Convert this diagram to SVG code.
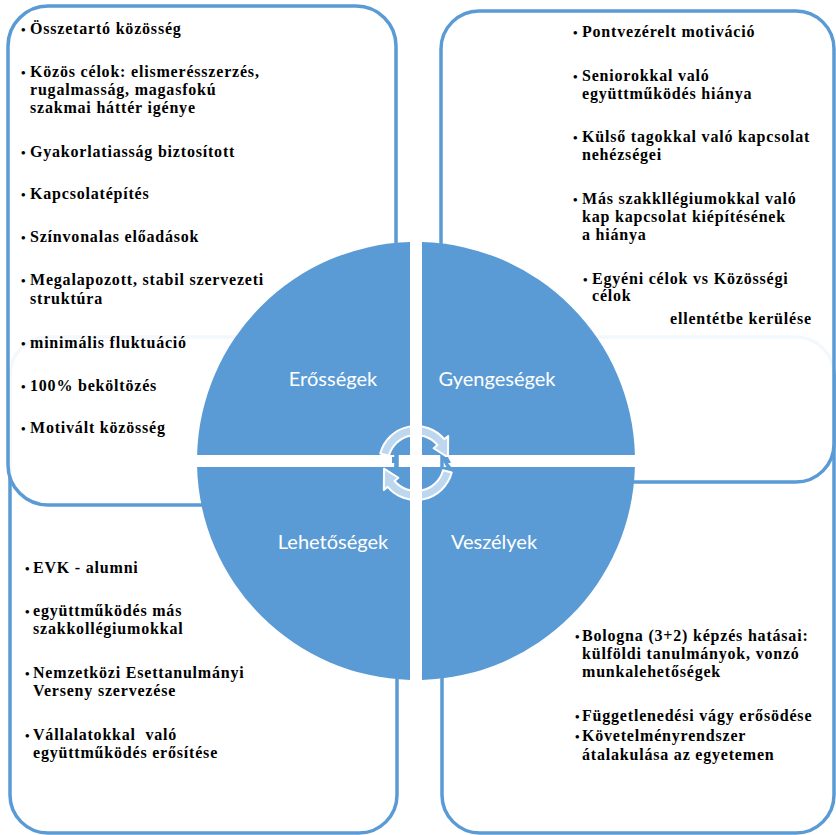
<svg xmlns="http://www.w3.org/2000/svg" xmlns:xlink="http://www.w3.org/1999/xlink" width="836" height="835" viewBox="0 0 836 835">
<style>
.box{fill:#fff;stroke:#5B9BD5;stroke-width:3.5}
.top{fill-opacity:0.93}
.t{font-family:"Liberation Serif","Times New Roman",serif;font-weight:bold;font-size:16px;letter-spacing:0.8px;fill:#000}
.b{font-size:13px;letter-spacing:0}
.q{fill:#5B9BD5}
.lbl{font-family:Lato,"Open Sans",sans-serif;font-size:20px;fill:#fff;text-anchor:middle}
.arrow{fill:#fff;fill-opacity:0.6;stroke:#fff;stroke-width:2;stroke-linejoin:round}
</style>
<defs>
<path id="cyc" d="M380.26,453.42 A37,37 0 0 1 444.34,439.22 L448.17,436 L448,457.36 L433.62,448.22 L437.45,445 A28,28 0 0 0 388.95,455.75 Z"/>
</defs>

<g id="box-opportunities">
<rect class="box" x="10" y="337" width="387" height="496" rx="38"/>
<text class="t"><tspan class="b" x="25" y="573">•</tspan><tspan x="33" y="573">EVK - alumni</tspan></text>
<text class="t"><tspan class="b" x="25" y="616">•</tspan><tspan x="33" y="616">együttműködés más</tspan><tspan x="33" y="634">szakkollégiumokkal</tspan></text>
<text class="t"><tspan class="b" x="25" y="678">•</tspan><tspan x="33" y="678">Nemzetközi Esettanulmányi</tspan><tspan x="33" y="696">Verseny szervezése</tspan></text>
<text class="t" xml:space="preserve"><tspan class="b" x="25" y="740">•</tspan><tspan x="33" y="740">Vállalatokkal  való</tspan><tspan x="33" y="758">együttműködés erősítése</tspan></text>
</g>

<g id="box-threats">
<rect class="box" x="442" y="337" width="392" height="496" rx="38"/>
<text class="t"><tspan class="b" x="575" y="641">•</tspan><tspan x="582" y="641">Bologna (3+2) képzés hatásai:</tspan><tspan x="582" y="659">külföldi tanulmányok, vonzó</tspan><tspan x="582" y="677">munkalehetőségek</tspan></text>
<text class="t"><tspan class="b" x="575" y="721">•</tspan><tspan x="582" y="721">Függetlenedési vágy erősödése</tspan></text>
<text class="t"><tspan class="b" x="575" y="741">•</tspan><tspan x="582" y="741">Követelményrendszer</tspan><tspan x="582" y="760">átalakulása az egyetemen</tspan></text>
</g>

<g id="box-strengths">
<rect class="box top" x="8" y="6" width="388" height="499" rx="40"/>
<text class="t"><tspan class="b" x="21" y="34">•</tspan><tspan x="30" y="34">Összetartó közösség</tspan></text>
<text class="t"><tspan class="b" x="21" y="77">•</tspan><tspan x="30" y="77">Közös célok: elismerésszerzés,</tspan><tspan x="30" y="95">rugalmasság, magasfokú</tspan><tspan x="30" y="113">szakmai háttér igénye</tspan></text>
<text class="t"><tspan class="b" x="21" y="157">•</tspan><tspan x="30" y="157">Gyakorlatiasság biztosított</tspan></text>
<text class="t"><tspan class="b" x="21" y="199">•</tspan><tspan x="30" y="199">Kapcsolatépítés</tspan></text>
<text class="t"><tspan class="b" x="21" y="242">•</tspan><tspan x="30" y="242">Színvonalas előadások</tspan></text>
<text class="t"><tspan class="b" x="21" y="285">•</tspan><tspan x="30" y="285">Megalapozott, stabil szervezeti</tspan><tspan x="30" y="304">struktúra</tspan></text>
<text class="t"><tspan class="b" x="21" y="348">•</tspan><tspan x="30" y="348">minimális fluktuáció</tspan></text>
<text class="t"><tspan class="b" x="21" y="391">•</tspan><tspan x="30" y="391">100% beköltözés</tspan></text>
<text class="t"><tspan class="b" x="21" y="433">•</tspan><tspan x="30" y="433">Motivált közösség</tspan></text>
</g>

<g id="box-weaknesses">
<rect class="box top" x="441" y="11" width="393" height="471" rx="38"/>
<text class="t"><tspan class="b" x="573" y="37">•</tspan><tspan x="582" y="37">Pontvezérelt motiváció</tspan></text>
<text class="t"><tspan class="b" x="573" y="81">•</tspan><tspan x="582" y="81">Seniorokkal való</tspan><tspan x="582" y="99">együttműködés hiánya</tspan></text>
<text class="t"><tspan class="b" x="573" y="142">•</tspan><tspan x="582" y="142">Külső tagokkal való kapcsolat</tspan><tspan x="582" y="160">nehézségei</tspan></text>
<text class="t"><tspan class="b" x="573" y="204">•</tspan><tspan x="582" y="204">Más szakkllégiumokkal való</tspan><tspan x="582" y="222">kap kapcsolat kiépítésének</tspan><tspan x="582" y="240">a hiánya</tspan></text>
<text class="t"><tspan class="b" x="583" y="284">•</tspan><tspan x="592" y="284">Egyéni célok vs Közösségi</tspan><tspan x="592" y="301">célok</tspan><tspan x="670" y="324">ellentétbe kerülése</tspan></text>
</g>

<g id="q-strengths">
<path class="q" d="M410,455 L410,242.08 A219,219 0 0 0 197.08,455 Z"/>
<text class="lbl" x="333" y="386">Erősségek</text>
</g>
<g id="q-weaknesses">
<path class="q" d="M422,455 L634.92,455 A219,219 0 0 0 422,242.08 Z"/>
<text class="lbl" x="497" y="386">Gyengeségek</text>
</g>
<g id="q-opportunities">
<path class="q" d="M410,467 L197.08,467 A219,219 0 0 0 410,679.92 Z"/>
<text class="lbl" x="333" y="549">Lehetőségek</text>
</g>
<g id="q-threats">
<path class="q" d="M422,467 L422,679.92 A219,219 0 0 0 634.92,467 Z"/>
<text class="lbl" x="494" y="549">Veszélyek</text>
</g>

<g id="connectors">
<use xlink:href="#cyc" class="arrow"/>
<use xlink:href="#cyc" class="arrow" transform="rotate(180 416 463)"/>
<rect class="q" x="392" y="457" width="4" height="6"/>
<polygon class="q" points="444,457 448,457 451,463 444,463"/>
</g>
</svg>
